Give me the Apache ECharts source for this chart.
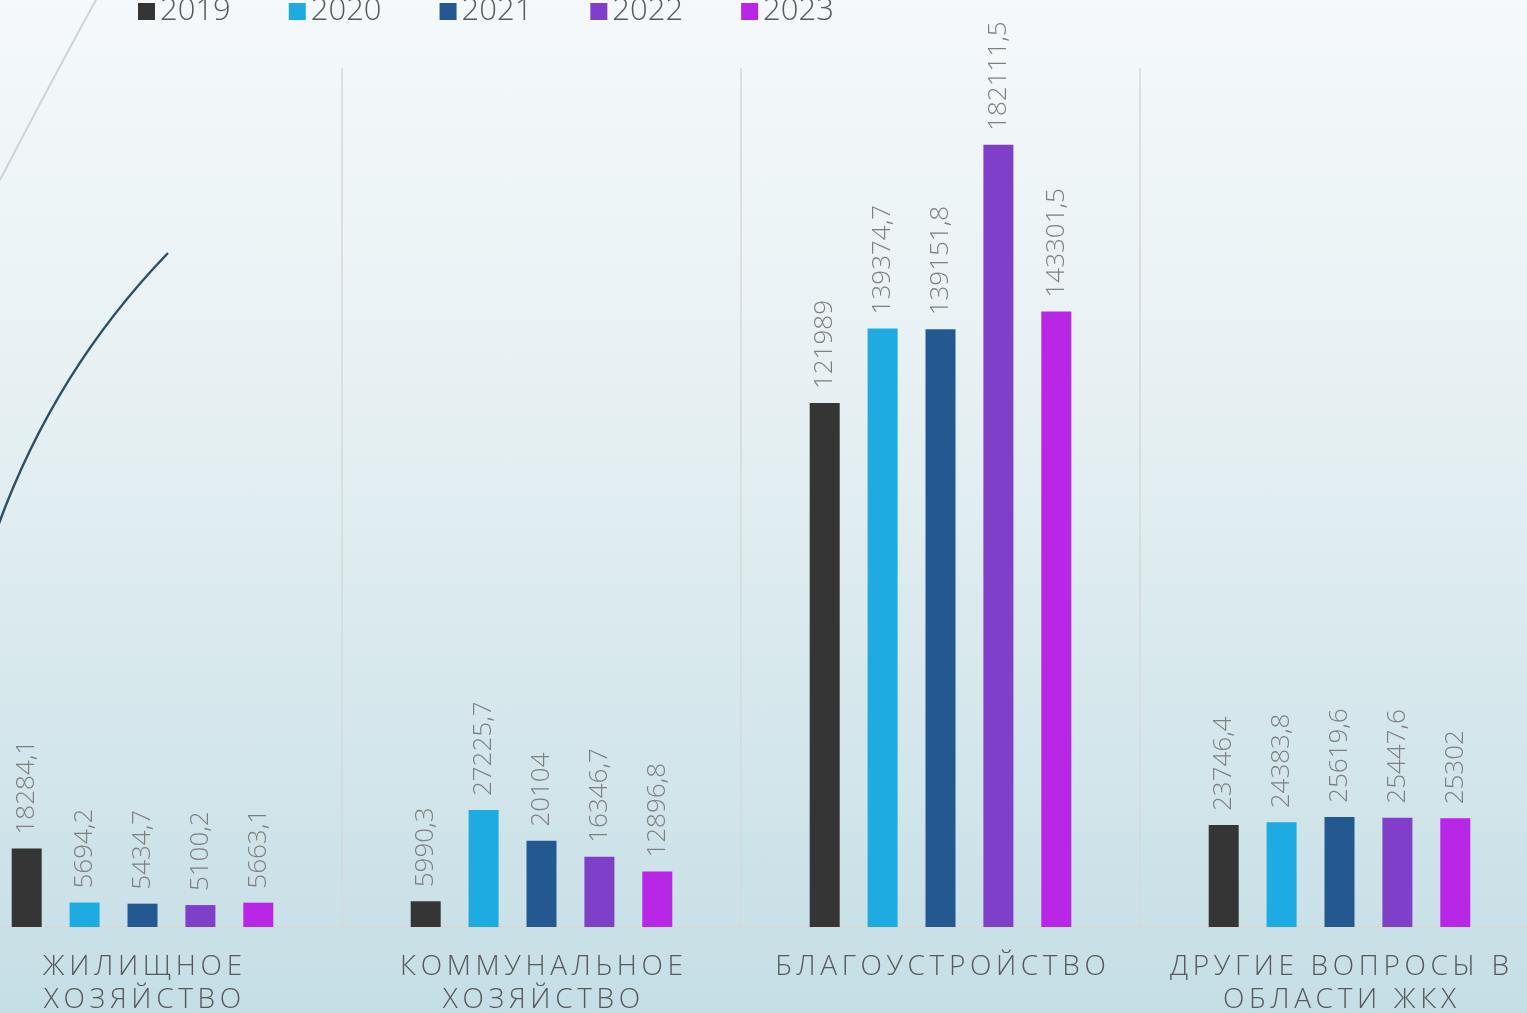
<!DOCTYPE html>
<html lang="ru">
<head>
<meta charset="utf-8">
<title>Расходы ЖКХ</title>
<script src="https://cdn.jsdelivr.net/npm/echarts@6/dist/echarts.min.js"></script>
<style>
  html, body { margin: 0; padding: 0; }
  body {
    width: 1527px;
    height: 1013px;
    overflow: hidden;
    position: relative;
    background: linear-gradient(180deg, #f5f9fb 0%, #e6f0f3 40%, #d3e6eb 75%, #c5dee5 100%);
  }
  /* the plot runs a bit past both edges of the page, as in the original slide */
  #chart {
    position: absolute;
    left: -57px;
    top: 0;
    width: 1596px;
    height: 1013px;
  }
</style>
</head>
<body>
<div id="chart"></div>
<script>
const categories = [
  "ЖИЛИЩНОЕ\nХОЗЯЙСТВО",
  "КОММУНАЛЬНОЕ\nХОЗЯЙСТВО",
  "БЛАГОУСТРОЙСТВО",
  "ДРУГИЕ ВОПРОСЫ В\nОБЛАСТИ ЖКХ"
];
const years = ["2019", "2020", "2021", "2022", "2023"];
const values2019 = [18284.1, 5990.3, 121989, 23746.4];
const values2020 = [5694.2, 27225.7, 139374.7, 24383.8];
const values2021 = [5434.7, 20104, 139151.8, 25619.6];
const values2022 = [5100.2, 16346.7, 182111.5, 25447.6];
const values2023 = [5663.1, 12896.8, 143301.5, 25302];
const seriesValues = [values2019, values2020, values2021, values2022, values2023];
const colors = ["#353535", "#1dabe2", "#245891", "#7f3fc9", "#b826e6"];

const font = "'Open Sans', 'Liberation Sans', sans-serif";
const shift = 57; // chart div starts 57px left of the page

// spread letters a little, like the wide caps of the original
function spaced(text) {
  return text.split("\n").map(line => line.split("").join("\u2009")).join("\n");
}

const chart = echarts.init(document.getElementById("chart"));

chart.setOption({
  backgroundColor: "transparent",
  animation: false,
  color: colors,
  legend: {
    data: years,
    left: 133 + shift,
    top: -9,
    icon: "rect",
    itemWidth: 17,
    itemHeight: 17,
    itemGap: 58,
    textStyle: { color: "#595959", fontSize: 31, fontFamily: font, fontWeight: 300 }
  },
  grid: { left: 0, right: 0, top: 68, bottom: 86, containLabel: false, outerBoundsMode: "none" },
  xAxis: {
    type: "category",
    data: categories,
    axisLine: { lineStyle: { color: "#d6d9db", width: 2 } },
    axisTick: { show: false },
    splitLine: { show: true, lineStyle: { color: "#d6d9db", width: 1.5 } },
    axisLabel: {
      interval: 0,
      margin: 24,
      align: "center",
      color: "#595959",
      fontSize: 28,
      lineHeight: 33,
      fontFamily: font,
      fontWeight: 300,
      formatter: v => spaced(v)
    }
  },
  yAxis: {
    type: "value",
    min: 0,
    max: 200000,
    show: false,
    splitLine: { show: false }
  },
  graphic: [
    {
      type: "bezierCurve",
      silent: true,
      shape: { x1: 97 + shift, y1: -2, cpx1: 52 + shift, cpy1: 80, x2: shift, y2: 180 },
      style: { stroke: "#c9d5dc", lineWidth: 2, fill: null }
    },
    {
      type: "bezierCurve",
      silent: true,
      shape: { x1: shift - 2, y1: 526, cpx1: 55 + shift, cpy1: 370, x2: 168 + shift, y2: 253 },
      style: { stroke: "#2b5066", lineWidth: 2.5, fill: null }
    }
  ],
  series: years.map((year, i) => ({
    name: year,
    type: "bar",
    data: seriesValues[i],
    barWidth: 30,
    barGap: "93%",
    itemStyle: { color: colors[i] },
    label: {
      show: true,
      position: "top",
      rotate: 90,
      align: "left",
      verticalAlign: "middle",
      distance: 14,
      color: "#7f7f7f",
      fontSize: 26,
      fontFamily: font,
      fontWeight: 300,
      formatter: p => String(p.value).replace(".", ",")
    }
  }))
});
</script>
</body>
</html>
